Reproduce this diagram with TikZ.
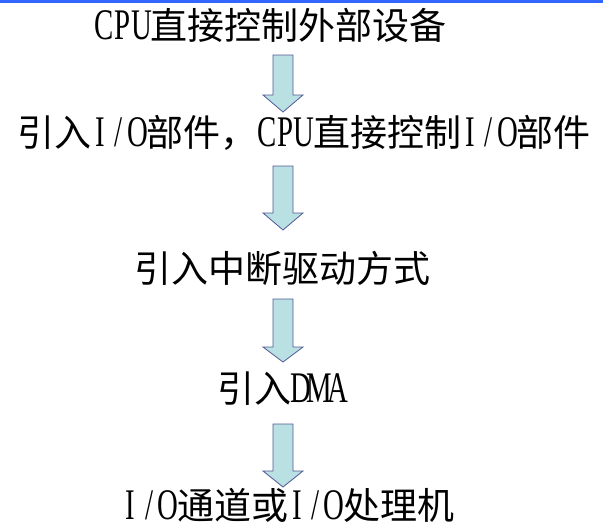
\documentclass[tikz,border=0pt]{standalone}
\usepackage{fontspec}
\setmainfont{Noto Sans CJK SC}
\newfontfamily\latf{Liberation Serif}[Scale=1.18,FakeStretch=0.66]
\definecolor{topblue}{RGB}{51,102,255}
\definecolor{arrfill}{RGB}{185,224,226}
\definecolor{arredge}{RGB}{80,90,150}
\newcommand{\hw}[1]{\makebox[0.5em]{\latf #1}}
\newcommand{\IO}{\hw{I}\hw{/}\hw{O}}
\newcommand{\CPU}{\hw{C}\hw{P}\hw{U}}
\begin{document}
\begin{tikzpicture}[x=1pt,y=-1pt,
  lbl/.style={inner sep=0pt,font=\fontsize{37}{40}\selectfont,text=black},
  bigarrow/.style={draw=arredge,fill=arrfill,line width=0.8pt,line join=miter}]
\useasboundingbox (0,0) rectangle (603,530);
\fill[topblue] (0,0) rectangle (603,3);
\node[lbl] (t1) at (271,25) {\CPU 直接控制外部设备};
\node[lbl] (t2) at (304,133) {引入\IO 部件，\CPU 直接控制\IO 部件};
\node[lbl] (t3) at (282,268) {引入中断驱动方式};
\node[lbl] (t4) at (282,389) {引入\hw{D}\hw{M}\hw{A}};
\node[lbl] (t5) at (288,505) {\IO 通道或\IO 处理机};
% arrows
\foreach \n/\top/\ht/\tip in {a1/55/95/112, a2/166/213/230, a3/299/347/362, a4/424/471/487}{
  \draw[bigarrow] (273,\top) -- (293,\top) -- (293,\ht) -- (303,\ht) -- (283,\tip) -- (263,\ht) -- (273,\ht) -- cycle;
  \coordinate (\n) at (283,\tip);
}
\end{tikzpicture}
\end{document}
